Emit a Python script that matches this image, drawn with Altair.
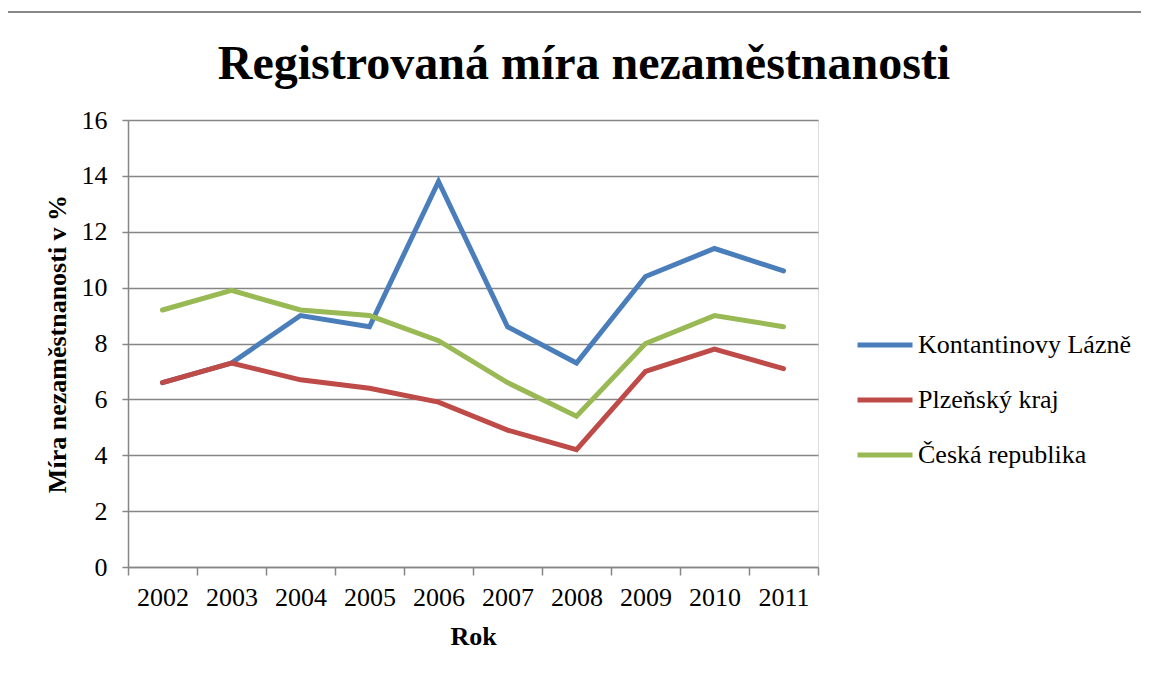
import altair as alt
import pandas as pd

years = ["2002", "2003", "2004", "2005", "2006", "2007", "2008", "2009", "2010", "2011"]
kv = [6.6, 7.3, 9.0, 8.6, 13.8, 8.6, 7.3, 10.4, 11.4, 10.6]
plzen = [6.6, 7.3, 6.7, 6.4, 5.9, 4.9, 4.2, 7.0, 7.8, 7.1]
cr = [9.2, 9.9, 9.2, 9.0, 8.1, 6.6, 5.4, 8.0, 9.0, 8.6]
series = ["Kontantinovy Lázně", "Plzeňský kraj", "Česká republika"]
colors = ["#4A7EBB", "#BE4B48", "#98B954"]

rows = []
for name, vals in zip(series, [kv, plzen, cr]):
    for i, (y, v) in enumerate(zip(years, vals)):
        rows.append({"Rok": y, "value": v, "series": name})
df = pd.DataFrame(rows)

FONT = "Liberation Serif"

lines = alt.Chart(df).mark_line(strokeWidth=5, strokeCap="round", strokeJoin="miter").encode(
    x=alt.X("Rok:O", sort=years,
            scale=alt.Scale(type="band", paddingInner=0, paddingOuter=0),
            axis=alt.Axis(title="Rok", labelAngle=0, tickBand="extent", grid=False,
                          domainColor="#868686", domainWidth=1.5, tickColor="#868686",
                          tickWidth=1.5, tickSize=8, labelPadding=9, labelFontSize=26,
                          labelFont=FONT, labelColor="black", titleFont=FONT,
                          titleFontSize=26, titleFontWeight="bold", titleColor="black",
                          titlePadding=13)),
    y=alt.Y("value:Q", scale=alt.Scale(domain=[0, 16]),
            axis=alt.Axis(title="Míra nezaměstnanosti v %", values=list(range(0, 17, 2)),
                          grid=True, gridColor="#868686", gridWidth=1.5,
                          domainColor="#868686", domainWidth=1.5, tickColor="#868686",
                          tickWidth=1.5, tickSize=6, labelPadding=15, labelFontSize=26,
                          labelFont=FONT, labelColor="black", titleFont=FONT,
                          titleFontSize=26, titleFontWeight="bold", titleColor="black",
                          titlePadding=11)),
    color=alt.Color("series:N", sort=series,
                    scale=alt.Scale(domain=series, range=colors),
                    legend=alt.Legend(title=None, orient="none", legendX=727, legendY=195,
                                      symbolType="stroke", symbolSize=3025,
                                      symbolStrokeWidth=5, labelFont=FONT,
                                      labelFontSize=26, labelColor="black", labelLimit=0,
                                      rowPadding=12, labelOffset=3)),
)

frame_h = alt.Chart(df).mark_rule(color="#888888", strokeWidth=1.5, clip=False).encode(
    x=alt.value(-123), x2=alt.value(1030), y=alt.value(-108))
frame_v = alt.Chart(df).mark_rule(color="#888888", strokeWidth=1.5, clip=False).encode(
    x=alt.value(-123), y=alt.value(-108), y2=alt.value(560))

chart = alt.layer(frame_h, frame_v, lines).properties(
    width=690, height=447,
    title=alt.TitleParams("Registrovaná míra nezaměstnanosti", font=FONT, fontSize=48,
                          fontWeight="bold", color="black", anchor="middle", dx=111,
                          baseline="alphabetic", offset=-116),
    autosize=alt.AutoSizeParams(type="none"),
    padding={"left": 120, "top": 112, "right": 323, "bottom": 100},
).configure_view(stroke=None).configure(background="white")

chart.save("out.html", embed_options={"renderer": "svg", "actions": False})
